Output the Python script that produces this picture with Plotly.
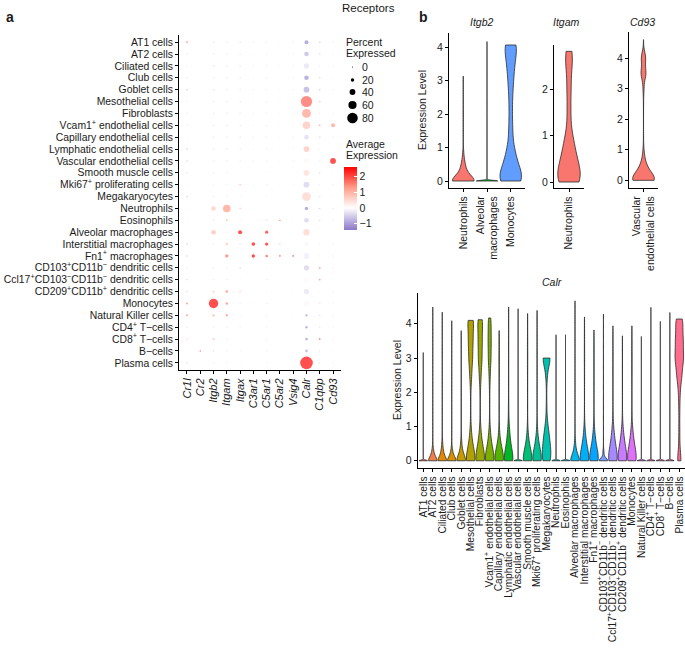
import math
import numpy as np
import plotly.graph_objects as go

W, H = 685, 649
FONT = "Liberation Sans, Arial, sans-serif"

# ---------------- data: panel a (dot plot) ----------------
genes = ["Cr1l", "Cr2", "Itgb2", "Itgam", "Itgax", "C3ar1", "C5ar1", "C5ar2",
         "Vsig4", "Calr", "C1qbp", "Cd93"]

cell_types = [
    "AT1 cells", "AT2 cells", "Ciliated cells", "Club cells", "Goblet cells",
    "Mesothelial cells", "Fibroblasts", "Vcam1<sup>+</sup> endothelial cells",
    "Capillary endothelial cells", "Lymphatic endothelial cells",
    "Vascular endothelial cells", "Smooth muscle cells",
    "Mki67<sup>+</sup> proliferating cells", "Megakaryocytes", "Neutrophils",
    "Eosinophils", "Alveolar macrophages", "Interstitial macrophages",
    "Fn1<sup>+</sup> macrophages", "CD103<sup>+</sup>CD11b<sup>−</sup> dendritic cells",
    "Ccl17<sup>+</sup>CD103<sup>−</sup>CD11b<sup>−</sup> dendritic cells",
    "CD209<sup>+</sup>CD11b<sup>+</sup> dendritic cells", "Monocytes",
    "Natural Killer cells", "CD4<sup>+</sup> T−cells", "CD8<sup>+</sup> T−cells",
    "B−cells", "Plasma cells",
]

# percent expressed (rows = cell types, cols = genes)
pct_expressed = [
    [8, 1, 2, 2, 2, 1, 1, 1, 1, 25, 4, 2],
    [2, 1, 2, 2, 2, 1, 1, 1, 1, 30, 3, 1],
    [1, 1, 2, 2, 2, 1, 1, 1, 1, 35, 2, 1],
    [2, 1, 2, 2, 2, 1, 1, 1, 1, 30, 3, 1],
    [4, 1, 2, 2, 2, 1, 1, 1, 1, 40, 4, 1],
    [4, 1, 2, 2, 2, 1, 1, 1, 1, 85, 6, 1],
    [2, 1, 2, 2, 2, 1, 1, 1, 1, 65, 2, 1],
    [4, 1, 2, 2, 2, 1, 1, 1, 1, 55, 5, 25],
    [1, 1, 2, 2, 2, 1, 1, 1, 1, 30, 4, 1],
    [5, 1, 2, 2, 2, 1, 1, 1, 1, 40, 2, 1],
    [4, 1, 2, 2, 2, 1, 1, 1, 1, 35, 2, 40],
    [2, 1, 2, 2, 1, 1, 1, 1, 1, 40, 3, 1],
    [2, 1, 3, 2, 6, 1, 2, 1, 1, 40, 2, 1],
    [3, 1, 2, 2, 2, 1, 1, 1, 1, 65, 3, 1],
    [1, 1, 30, 55, 6, 1, 2, 1, 1, 20, 3, 2],
    [1, 1, 5, 8, 3, 1, 5, 3, 1, 30, 3, 1],
    [1, 1, 30, 2, 25, 1, 18, 2, 1, 45, 2, 1],
    [3, 1, 2, 12, 5, 22, 20, 4, 1, 30, 2, 1],
    [3, 1, 3, 20, 1, 20, 12, 6, 6, 40, 2, 3],
    [1, 1, 5, 2, 5, 1, 2, 1, 1, 35, 6, 1],
    [2, 1, 2, 2, 1, 1, 2, 1, 1, 30, 5, 1],
    [2, 1, 15, 15, 8, 1, 2, 1, 1, 35, 1, 1],
    [10, 1, 70, 12, 2, 1, 2, 1, 1, 40, 5, 2],
    [8, 1, 12, 8, 3, 1, 1, 1, 1, 10, 3, 1],
    [3, 1, 2, 2, 2, 1, 1, 1, 1, 12, 2, 1],
    [4, 1, 12, 2, 2, 1, 1, 1, 1, 14, 5, 1],
    [1, 4, 2, 2, 2, 1, 1, 1, 1, 15, 2, 1],
    [2, 1, 2, 2, 2, 1, 1, 1, 1, 97, 2, 1],
]

# average (scaled) expression
avg_expression = [
    [1.5, -0.1, -0.5, -0.5, -0.5, -0.3, -0.4, -0.3, -0.3, -1.2, -0.8, -0.3],
    [-0.6, -0.1, -0.5, -0.5, -0.5, -0.3, -0.4, -0.3, -0.3, -0.8, -0.6, -0.3],
    [-0.3, -0.1, -0.5, -0.5, -0.5, -0.3, -0.4, -0.3, -0.3, -0.3, -0.4, -0.3],
    [-0.6, -0.1, -0.5, -0.5, -0.5, -0.3, -0.4, -0.3, -0.3, -1.1, -0.6, -0.3],
    [-0.8, -0.1, -0.5, -0.5, -0.5, -0.3, -0.4, -0.3, -0.3, -0.9, -0.8, -0.3],
    [0.3, -0.1, -0.5, -0.5, -0.5, -0.3, -0.4, -0.3, -0.3, 1.8, 0.9, -0.3],
    [-0.4, -0.1, -0.5, -0.5, -0.5, -0.3, -0.4, -0.3, -0.3, 1.3, -0.4, -0.3],
    [0.4, -0.1, -0.5, -0.5, -0.5, -0.3, -0.4, -0.3, -0.3, 0.8, 1.6, 1.3],
    [-0.2, -0.1, -0.5, -0.5, -0.5, -0.3, -0.4, -0.3, -0.3, -0.4, 1.0, -0.3],
    [1.2, -0.1, -0.5, -0.5, -0.5, -0.3, -0.4, -0.3, -0.3, 0.8, -0.3, -0.3],
    [1.0, -0.1, -0.4, -0.4, -0.4, -0.3, -0.3, -0.3, -0.3, 0.1, -0.3, 2.5],
    [-0.6, -0.1, -0.4, -0.3, -0.3, -0.2, -0.3, -0.2, -0.2, 0.5, -0.6, -0.3],
    [0.2, -0.1, 0.3, -0.3, 1.0, -0.2, 0.4, -0.2, -0.2, -0.5, -0.3, -0.3],
    [-1.0, -0.1, -0.4, -0.3, -0.3, -0.2, -0.3, -0.2, -0.2, 0.6, -0.6, -0.3],
    [-0.2, -0.1, 0.7, 1.3, 0.8, -0.2, 0.2, -0.1, -0.2, -1.2, -0.7, -0.4],
    [-0.2, -0.1, 0.6, 1.0, 0.4, -0.2, 0.7, 2.3, -0.2, -0.5, -0.6, -0.3],
    [-0.2, -0.1, 0.9, -0.4, 2.5, -0.2, 2.3, 0.4, -0.1, 0.6, 0.2, -0.2],
    [-1.0, -0.1, -0.3, 0.9, 0.6, 2.5, 2.4, 1.0, -0.1, -0.1, -0.3, -0.3],
    [-0.8, -0.1, 0.2, 1.6, -0.2, 2.55, 2.0, 2.0, 2.0, -0.2, -0.3, 0.5],
    [-0.3, -0.1, 0.4, -0.3, 0.8, -0.2, -0.2, -0.2, -0.2, -0.5, 1.6, -0.3],
    [-0.8, -0.1, -0.3, -0.3, -0.3, -0.2, -0.3, -0.2, -0.2, 0.1, 1.8, -0.3],
    [-0.8, -0.1, 0.5, 1.4, 0.6, -0.2, -0.2, -0.2, -0.2, -0.3, -0.2, -0.3],
    [1.4, -0.1, 2.55, 1.5, -0.3, -0.2, -0.3, -0.2, -0.2, 0.1, 0.6, -0.2],
    [1.5, -0.1, 1.0, 1.8, 0.4, -0.2, -0.3, -0.2, -0.2, -1.2, -0.6, -0.3],
    [0.5, -0.1, -0.3, -0.3, -0.3, -0.2, -0.3, -0.2, -0.2, -1.1, -0.5, -0.3],
    [0.8, -0.1, 0.7, -0.3, -0.3, -0.2, -0.3, -0.2, -0.2, -1.1, 2.2, -0.3],
    [-0.2, 2.0, -0.6, -0.3, -0.3, -0.2, -0.3, -0.2, -0.2, -0.9, -0.4, -0.3],
    [-0.8, -0.1, -0.3, -0.3, -0.3, -0.2, -0.3, -0.2, -0.2, 2.55, -0.6, -0.3],
]

size_legend_values = [0, 20, 40, 60, 80]
color_ticks = [-1, 0, 1, 2]

# ---------------- data: panel b (violins) ----------------
# expression levels at which cell counts are tallied
LEVELS = [0, 0.25, 0.5, 0.75, 1.0, 1.5, 2.0, 2.5, 3.0, 3.5, 4.0]

itgb2_groups = ["Neutrophils", "Alveolar<br>macrophages", "Monocytes"]
itgb2_counts = [
    [300, 80, 40, 15, 3, 3, 5, 2, 1, 0, 0],
    [400, 0, 0, 0, 1, 1, 1, 1, 1, 1, 1],
    [100, 50, 35, 25, 22, 20, 16, 18, 28, 40, 60],
]
itgb2_max = [3.13, 4.16, 4.06]
itgb2_maxcount = [1, 1, 10]
itgb2_bw = [0.15, 0.02, 0.3]

itgam_groups = ["Neutrophils"]
itgam_counts = [[100, 70, 50, 35, 28, 22, 25, 30, 0, 0, 0]]
itgam_max = [2.81]
itgam_maxcount = [30]
itgam_bw = [0.25]

cd93_groups = ["Vascular<br>endothelial cells"]
cd93_counts = [[300, 120, 50, 20, 8, 2, 1, 3, 15, 80, 70]]
cd93_max = [4.6]
cd93_maxcount = [1]
cd93_bw = [0.2]

calr_counts = [
    [400, 0, 0, 0, 1, 1, 1, 1, 1, 0, 0],          # AT1
    [300, 60, 10, 2, 1, 1, 1, 1, 1, 1, 1],        # AT2
    [300, 80, 30, 5, 1, 1, 1, 1, 1, 1, 1],        # Ciliated
    [300, 60, 10, 2, 1, 1, 1, 1, 1, 1, 1],        # Club
    [300, 80, 30, 6, 2, 3, 4, 3, 2, 1, 0],        # Goblet
    [100, 40, 25, 12, 6, 3, 5, 25, 50, 60, 60],   # Mesothelial
    [100, 45, 30, 15, 6, 3, 5, 25, 50, 55, 55],   # Fibroblasts
    [100, 40, 25, 12, 6, 2, 4, 15, 35, 40, 35],   # Vcam1+
    [150, 60, 30, 10, 3, 2, 3, 6, 8, 5, 0],       # Capillary
    [150, 60, 40, 25, 15, 8, 4, 3, 2, 1, 1],      # Lymphatic
    [400, 0, 1, 1, 1, 1, 1, 1, 1, 1, 1],          # Vascular
    [150, 60, 30, 12, 4, 2, 2, 4, 6, 5, 2],       # Smooth muscle
    [150, 60, 35, 15, 5, 2, 2, 3, 4, 3, 1],       # Mki67+
    [60, 50, 40, 30, 20, 8, 3, 15, 90, 0, 0],     # Megakaryocytes
    [400, 0, 1, 1, 1, 1, 1, 1, 1, 1, 0],          # Neutrophils
    [400, 0, 1, 1, 1, 1, 1, 1, 1, 1, 0],          # Eosinophils
    [300, 80, 30, 6, 2, 1, 1, 2, 3, 3, 2],        # Alveolar
    [150, 70, 40, 20, 8, 2, 2, 4, 6, 5, 2],       # Interstitial
    [150, 70, 40, 20, 8, 2, 2, 4, 5, 3, 0],       # Fn1+
    [300, 40, 5, 1, 1, 1, 1, 1, 1, 1, 1],         # CD103+
    [150, 80, 50, 30, 15, 4, 3, 5, 6, 4, 0],      # Ccl17+
    [150, 80, 50, 30, 12, 3, 2, 3, 4, 2, 0],      # CD209+
    [150, 80, 50, 30, 12, 4, 5, 8, 9, 6, 0],      # Monocytes
    [400, 0, 1, 1, 1, 1, 1, 1, 1, 1, 0],          # NK
    [400, 0, 1, 1, 1, 1, 1, 1, 1, 1, 1],          # CD4
    [400, 0, 1, 1, 1, 1, 1, 1, 1, 1, 1],          # CD8
    [400, 0, 1, 1, 1, 1, 1, 1, 1, 1, 1],          # B
    [20, 3, 3, 3, 4, 6, 10, 30, 50, 45, 35],      # Plasma
]
calr_max = [3.16, 4.49, 4.34, 4.09, 3.8, 4.1, 4.12, 4.17, 3.8, 4.49, 4.44, 4.3,
            4.39, 3.0, 3.68, 3.68, 4.67, 4.2, 3.82, 4.28, 3.94, 3.65, 3.94, 3.63,
            4.48, 4.07, 4.33, 4.14]
calr_maxcount = [1, 1, 1, 1, 1, 20, 15, 5, 2, 1, 1, 1, 1, 0, 1, 1, 1, 1, 1, 1,
                 1, 1, 1, 1, 1, 1, 1, 10]
calr_bw = [0.02, 0.12, 0.12, 0.12, 0.15, 0.25, 0.25, 0.25, 0.25, 0.25, 0.02, 0.25,
           0.25, 0.25, 0.02, 0.02, 0.15, 0.25, 0.25, 0.08, 0.25, 0.25, 0.25, 0.02,
           0.02, 0.02, 0.02, 0.25]


# ---------------- helpers ----------------
def px_x(p):
    return p / W


def px_y(p):
    return 1 - p / H


def hcl_hex(h, c=100.0, l=65.0):
    hr = math.radians(h)
    U, V = c * math.cos(hr), c * math.sin(hr)
    Xn, Yn, Zn = 95.047, 100.0, 108.883
    den = Xn + 15 * Yn + 3 * Zn
    un, vn = 4 * Xn / den, 9 * Yn / den
    Y = Yn * ((l + 16) / 116) ** 3 if l > 8 else Yn * l / 903.3
    u = U / (13 * l) + un
    v = V / (13 * l) + vn
    X = 9.0 * Y * u / (4 * v)
    Z = -X / 3 - 5 * Y + 3 * Y / v
    X, Y, Z = X / 100, Y / 100, Z / 100
    rgb = [3.240479 * X - 1.537150 * Y - 0.498535 * Z,
           -0.969256 * X + 1.875992 * Y + 0.041556 * Z,
           0.055648 * X - 0.204043 * Y + 1.057311 * Z]
    out = []
    for ch in rgb:
        ch = 12.92 * ch if ch <= 0.0031308 else 1.055 * ch ** (1 / 2.4) - 0.055
        out.append(int(round(min(max(ch, 0), 1) * 255)))
    return "#%02X%02X%02X" % tuple(out)


def hue_pal(n):
    return [hcl_hex(15 + 360 * i / n) for i in range(n)]


def dot_size(p):
    return 1.0 + 0.12 * p


def make_samples(counts, top, topcount):
    vals = np.repeat(np.array(LEVELS), counts)
    return np.concatenate([vals, np.full(topcount, top)])


fig = go.Figure()

# ---------------- panel a ----------------
CMIN, CMAX = -1.39, 2.58
xs, ys, sz, col = [], [], [], []
for r in range(len(cell_types)):
    for c in range(len(genes)):
        xs.append(c)
        ys.append(r)
        sz.append(dot_size(pct_expressed[r][c]))
        col.append(avg_expression[r][c])

zero_pos = (0 - CMIN) / (CMAX - CMIN)
colorscale = [[0, "#8C78C8"], [zero_pos / 2, "#C4BAE3"], [zero_pos, "#FFFFFF"],
              [zero_pos + (1 - zero_pos) / 2, "#FF9C88"], [1, "#FF0000"]]

fig.add_trace(go.Scatter(
    x=xs, y=ys, mode="markers", xaxis="x", yaxis="y", showlegend=False,
    marker=dict(size=sz, color=col, colorscale=colorscale, cmin=CMIN, cmax=CMAX,
                line=dict(width=0),
                colorbar=dict(x=px_x(344), xanchor="left", y=px_y(167), yanchor="top",
                              len=63, lenmode="pixels", thickness=12.5,
                              thicknessmode="pixels", outlinewidth=0, xpad=0, ypad=0,
                              tickvals=color_ticks,
                              ticktext=["−1" if t < 0 else str(t) for t in color_ticks],
                              ticks="inside", ticklen=3, tickcolor="white",
                              tickfont=dict(size=10.5, family=FONT, color="#1a1a1a"))),
    hoverinfo="skip",
))

axis_common = dict(showline=True, linecolor="black", linewidth=1, ticks="outside",
                   ticklen=3, tickcolor="black", showgrid=False, zeroline=False,
                   tickfont=dict(family=FONT, size=10.5, color="#1a1a1a"))

layout = dict(
    width=W, height=H, margin=dict(l=0, r=0, t=0, b=0),
    paper_bgcolor="white", plot_bgcolor="white", showlegend=False,
    violinmode="overlay",
    font=dict(family=FONT, color="#1a1a1a"),
)
layout["xaxis"] = dict(axis_common, domain=[px_x(179), px_x(341)], range=[-0.6, 11.6],
                       tickvals=list(range(len(genes))),
                       ticktext=["<i>%s</i>" % g for g in genes], tickangle=-90,
                       anchor="y", tickfont=dict(family=FONT, size=11, color="#1a1a1a"))
layout["yaxis"] = dict(axis_common, domain=[px_y(370), px_y(35)], range=[27.6, -0.6],
                       tickvals=list(range(len(cell_types))), ticktext=cell_types,
                       anchor="x", tickfont=dict(family=FONT, size=10.4, color="#1a1a1a"))

# ---------------- panel b ----------------
VLINE = dict(color="#2b2b2b", width=0.8)


def add_violins(groups_n, counts, maxv, maxc, bws, colors, ax):
    for i in range(groups_n):
        s = make_samples(counts[i], maxv[i], maxc[i])
        fig.add_trace(go.Violin(
            x=np.full(len(s), i), y=s, xaxis="x" + ax, yaxis="y" + ax,
            width=0.9, spanmode="hard", bandwidth=bws[i], scalemode="width",
            points=False, box_visible=False, meanline_visible=False,
            fillcolor=colors[i], line=VLINE, opacity=1, showlegend=False,
            hoverinfo="skip",
        ))


add_violins(3, itgb2_counts, itgb2_max, itgb2_maxcount, itgb2_bw, hue_pal(3), "2")
add_violins(1, itgam_counts, itgam_max, itgam_maxcount, itgam_bw, hue_pal(1), "3")
add_violins(1, cd93_counts, cd93_max, cd93_maxcount, cd93_bw, hue_pal(1), "4")
add_violins(len(cell_types), calr_counts, calr_max, calr_maxcount, calr_bw,
            hue_pal(len(cell_types)), "5")

layout["xaxis2"] = dict(axis_common, domain=[px_x(449), px_x(525)], range=[-0.6, 2.6],
                        tickvals=[0, 1, 2], ticktext=itgb2_groups, tickangle=-90,
                        anchor="y2")
layout["yaxis2"] = dict(axis_common, domain=[px_y(188), px_y(33)], range=[-0.209, 4.418],
                        tickvals=[0, 1, 2, 3, 4], anchor="x2")
layout["xaxis3"] = dict(axis_common, domain=[px_x(554), px_x(584)], range=[-0.6, 0.6],
                        tickvals=[0], ticktext=itgam_groups, tickangle=-90, anchor="y3")
layout["yaxis3"] = dict(axis_common, domain=[px_y(188.3), px_y(45)], range=[-0.135, 2.946],
                        tickvals=[0, 1, 2], anchor="x3")
layout["xaxis4"] = dict(axis_common, domain=[px_x(629), px_x(658)], range=[-0.6, 0.6],
                        tickvals=[0], ticktext=cd93_groups, tickangle=-90, anchor="y4")
layout["yaxis4"] = dict(axis_common, domain=[px_y(188), px_y(32)], range=[-0.25, 4.85],
                        tickvals=[0, 1, 2, 3, 4], anchor="x4")
layout["xaxis5"] = dict(axis_common, domain=[px_x(417.6), 1.0], range=[-0.6, 27.6],
                        tickvals=list(range(len(cell_types))), ticktext=cell_types,
                        tickangle=-90, anchor="y5",
                        tickfont=dict(family=FONT, size=10.2, color="#1a1a1a"))
layout["yaxis5"] = dict(axis_common, domain=[px_y(468.3), px_y(293)], range=[-0.22, 4.9],
                        tickvals=[0, 1, 2, 3, 4], anchor="x5")

# ---------------- annotations & legend glyphs ----------------
ann = []


def text(s, x, y, size=10, xanchor="center", yanchor="middle", angle=0, bold=False):
    if bold:
        s = "<b>%s</b>" % s
    ann.append(dict(text=s, x=px_x(x), y=px_y(y), xref="paper", yref="paper",
                    showarrow=False, xanchor=xanchor, yanchor=yanchor, textangle=angle,
                    font=dict(family=FONT, size=size, color="#1a1a1a")))


text("a", 4, 17, size=14, xanchor="left", bold=True)
text("b", 417, 17, size=14, xanchor="left", bold=True)
text("Receptors", 368, 8, size=11.5)
text("Percent", 344, 42, size=10.5, xanchor="left")
text("Expressed", 344, 53, size=10.5, xanchor="left")
text("Average", 344, 144, size=10.5, xanchor="left")
text("Expression", 344, 155, size=10.5, xanchor="left")
legend_y = [67, 80, 92, 105, 118]
for v, yy in zip(size_legend_values, legend_y):
    text(str(v), 360, yy, size=10.5, xanchor="left")
text("<i>Itgb2</i>", 482, 22, size=10.5)
text("<i>Itgam</i>", 566, 22, size=10.5)
text("<i>Cd93</i>", 642, 22, size=10.5)
text("<i>Calr</i>", 552, 282, size=10.5)
text("Expression Level", 422, 110, size=10.5, angle=-90)
text("Expression Level", 397, 380, size=10.5, angle=-90)
layout["annotations"] = ann

shapes = []
for v, yy in zip(size_legend_values, legend_y):
    d = dot_size(v)
    shapes.append(dict(type="circle", xref="paper", yref="paper",
                       xsizemode="pixel", ysizemode="pixel",
                       xanchor=px_x(352.5), yanchor=px_y(yy),
                       x0=-d / 2, x1=d / 2, y0=-d / 2, y1=d / 2,
                       fillcolor="black", line=dict(width=0)))
layout["shapes"] = shapes

fig.update_layout(**layout)
fig.write_html("out.html", config={"displayModeBar": False},
               post_script="document.body.style.margin='0';"
                           "document.body.style.overflow='hidden';")
